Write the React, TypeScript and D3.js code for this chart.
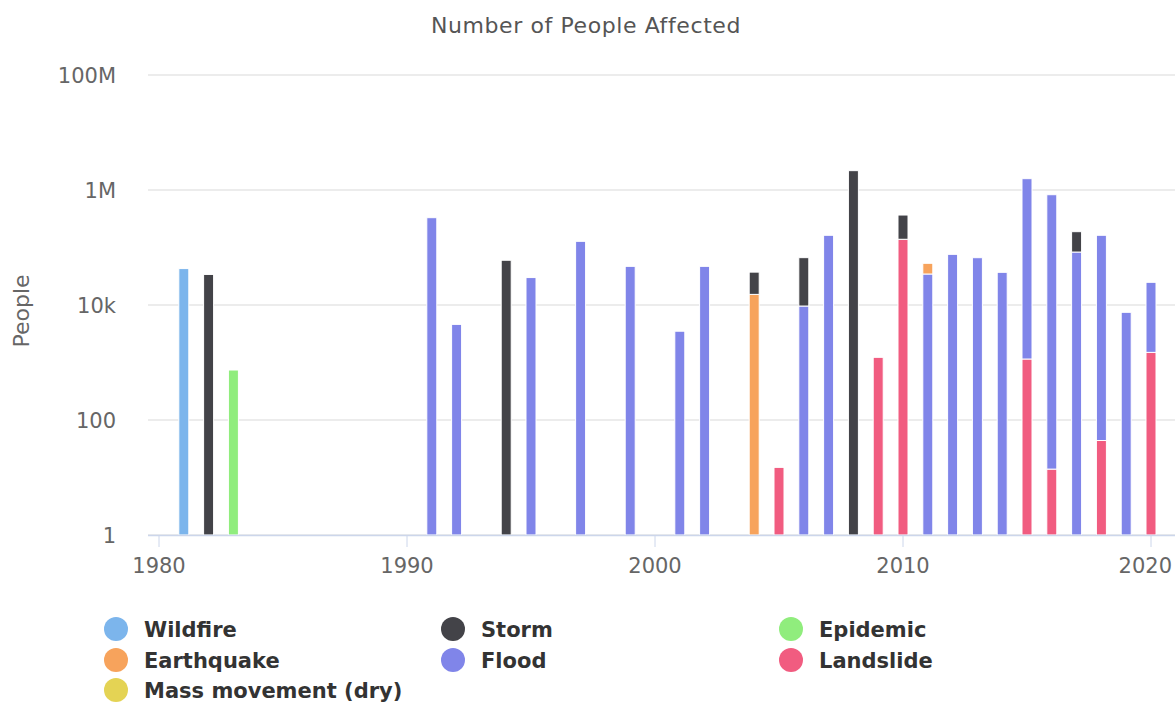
import React from "react";
import * as d3 from "d3";

const seriesNames = ["Wildfire", "Storm", "Epidemic", "Earthquake", "Flood", "Landslide", "Mass movement (dry)"];
const seriesColors = ["#7cb5ec", "#434348", "#90ed7d", "#f7a35c", "#8085e9", "#f15c80", "#e4d354"];

const wildfire: [number, number][] = [[1981, 43000]];
const storm: [number, number][] = [
  [1982, 34000], [1994, 60000], [2004, 22000], [2006, 57000], [2008, 2170000], [2010, 228000], [2017, 105000],
];
const epidemic: [number, number][] = [[1983, 740]];
const earthquake: [number, number][] = [[2004, 15300], [2011, 18500]];
const flood: [number, number][] = [
  [1991, 330000], [1992, 4600], [1995, 30000], [1997, 128000], [1999, 47000], [2001, 3500], [2002, 47000],
  [2006, 9600], [2007, 163000], [2011, 34600], [2012, 76000], [2013, 66500], [2014, 37000], [2015, 1573000],
  [2016, 828000], [2017, 83400], [2018, 163000], [2019, 7460], [2020, 23300],
];
const landslide: [number, number][] = [
  [2005, 15], [2009, 1230], [2010, 139000], [2015, 1150], [2016, 14], [2018, 44], [2020, 1500],
];
const massMovement: [number, number][] = [];

const seriesData = [wildfire, storm, epidemic, earthquake, flood, landslide, massMovement];

const yTicks = [1, 100, 1e4, 1e6, 1e8];
const yTickLabels = ["1", "100", "10k", "1M", "100M"];
const xTicks = [1980, 1990, 2000, 2010, 2020];

export default function App() {
  const W = 1175, H = 704;
  const plotLeft = 148, plotRight = 1175, plotTop = 75, plotBottom = 535;
  const x = d3.scaleLinear().domain([1980, 2020]).range([159, 1151]);
  const y = d3.scaleLog().domain([1, 1e8]).range([plotBottom, plotTop]);
  const barW = 10;

  // stacking: bottom to top is reverse of series order
  const cum = new Map<number, number>();
  const rects: { x: number; y0: number; y1: number; color: string; key: string }[] = [];
  for (let s = seriesData.length - 1; s >= 0; s--) {
    for (const [yr, v] of seriesData[s]) {
      const base = cum.get(yr) || 0;
      const top = base + v;
      cum.set(yr, top);
      const yb = base <= 1 ? plotBottom : y(base);
      const yt = y(top);
      rects.push({ x: x(yr), y0: yt, y1: yb, color: seriesColors[s], key: `${s}-${yr}` });
    }
  }

  const font = "'DejaVu Sans', sans-serif";
  const legendCols = [116, 453, 791];
  const legendRows = [629, 660, 690];

  return (
    <svg width={W} height={H} style={{ position: "absolute", left: 0, top: 0, background: "#fff" }}>
      <text x={586} y={33} textAnchor="middle" fontFamily={font} fontSize={22} letterSpacing={0.6} fill="#555">
        Number of People Affected
      </text>
      {yTicks.map((t, i) => (
        <g key={t}>
          <line x1={plotLeft} x2={plotRight} y1={y(t)} y2={y(t)} stroke="#e6e6e6" strokeWidth={1.5} />
          <text x={116} y={y(t) + 8} textAnchor="end" fontFamily={font} fontSize={21} fill="#666">
            {yTickLabels[i]}
          </text>
        </g>
      ))}
      <text
        transform={`translate(29,311) rotate(-90)`}
        textAnchor="middle"
        fontFamily={font}
        fontSize={22}
        fill="#666"
      >
        People
      </text>
      {rects.map((r) => (
        <rect
          key={r.key}
          x={r.x - barW / 2}
          y={r.y0}
          width={barW}
          height={Math.max(0, r.y1 - r.y0)}
          fill={r.color}
          stroke="#fff"
          strokeWidth={1}
        />
      ))}
      <line x1={plotLeft} x2={plotRight} y1={plotBottom + 0.5} y2={plotBottom + 0.5} stroke="#ccd6eb" strokeWidth={1.5} />
      {xTicks.map((t) => {
        const tx = x(t);
        const overflow = tx + 27 > W - 2;
        return (
          <g key={t}>
            <line x1={tx} x2={tx} y1={plotBottom} y2={plotBottom + 12} stroke="#ccd6eb" strokeWidth={1} />
            <text
              x={overflow ? W - 3 : tx}
              y={573}
              textAnchor={overflow ? "end" : "middle"}
              fontFamily={font}
              fontSize={21}
              fill="#666"
            >
              {t}
            </text>
          </g>
        );
      })}
      {seriesNames.map((n, i) => {
        const cx = legendCols[i % 3];
        const cy = legendRows[Math.floor(i / 3)];
        return (
          <g key={n}>
            <circle cx={cx} cy={cy} r={12} fill={seriesColors[i]} />
            <text x={cx + 28} y={cy + 8} fontFamily={font} fontSize={21} fontWeight="bold" fill="#333">
              {n}
            </text>
          </g>
        );
      })}
    </svg>
  );
}
